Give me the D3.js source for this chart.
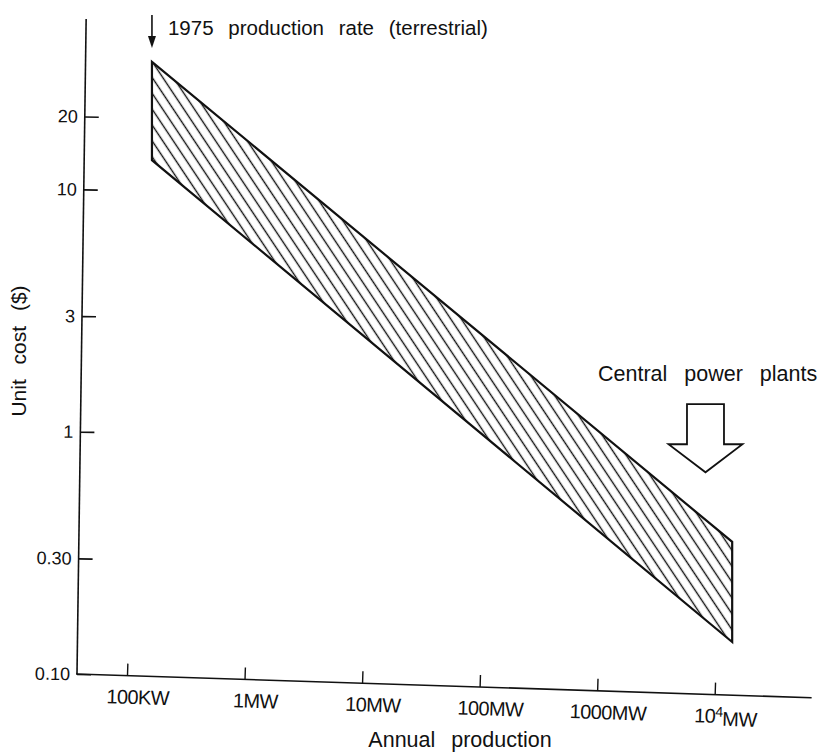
<!DOCTYPE html>
<html>
<head>
<meta charset="utf-8">
<script src="https://cdn.jsdelivr.net/npm/d3@7"></script>
<style>
  html, body { margin: 0; padding: 0; background: #fff; }
  svg { display: block; }
  text { font-family: "Liberation Sans", Arial, sans-serif; fill: #111; }
</style>
</head>
<body>
<svg id="chart" width="822" height="754"></svg>
<script>
// ---- data ----
const production = [0.163, 14000];          // annual production, MW (band left / right edge)
const costHigh   = [33.6, 0.351];           // upper bound of unit cost ($)
const costLow    = [13.2, 0.1355];          // lower bound of unit cost ($)
const xTickValues = [0.1, 1, 10, 100, 1000, 10000];
const xTickLabels = ["100KW", "1MW", "10MW", "100MW", "1000MW", "10^4MW"];
const yTickValues = [0.1, 0.3, 1, 3, 10, 20];
const yTickLabels = ["0.10", "0.30", "1", "3", "10", "20"];
const plantArrow = { production: 8300, from: 1.3, to: 0.68 };   // "Central power plants" arrow
const xTitle = "Annual production";
const yTitle = "Unit cost ($)";
const note1975 = "1975 production rate (terrestrial)";
const notePlants = "Central power plants";

// ---- layout ----
const svg = d3.select("#chart");
const x0 = 77, yBase = 674, xEnd = 812, yTop = 19;

const x = d3.scaleLog().domain([0.1, 1e4]).range([127, 715]);
const y = d3.scaleLog().domain([0.1, 50]).range([yBase, 20]);

// hatch pattern
const defs = svg.append("defs");
const pat = defs.append("pattern")
  .attr("id", "hatch")
  .attr("patternUnits", "userSpaceOnUse")
  .attr("width", 8.8).attr("height", 8.8)
  .attr("patternTransform", "rotate(-33.7)");
pat.append("line")
  .attr("x1", 4.4).attr("y1", -1).attr("x2", 4.4).attr("y2", 10)
  .attr("stroke", "#111").attr("stroke-width", 1.4);

// band
const bandPts = [
  [production[0], costHigh[0]],
  [production[1], costHigh[1]],
  [production[1], costLow[1]],
  [production[0], costLow[0]]
];
const line = d3.line().x(d => x(d[0])).y(d => y(d[1]));
svg.append("path")
  .attr("d", line(bandPts) + "Z")
  .attr("fill", "url(#hatch)")
  .attr("stroke", "#111")
  .attr("stroke-width", 2.2)
  .attr("stroke-linejoin", "miter");

// y axis (slightly skewed like the scan)
const yg = svg.append("g").attr("transform", `rotate(0.8,${x0},${yBase}) translate(${x0},0)`);
yg.append("line").attr("x1", 0).attr("x2", 0).attr("y1", yTop).attr("y2", yBase)
  .attr("stroke", "#111").attr("stroke-width", 1.6);
const yAxis = d3.axisLeft(y).tickValues(yTickValues)
  .tickFormat((d, i) => yTickLabels[i])
  .tickSizeInner(-14).tickSizeOuter(0).tickPadding(7);
yg.call(yAxis);
yg.select(".domain").remove();
yg.selectAll(".tick line").attr("stroke", "#111").attr("stroke-width", 1.6);
yg.selectAll(".tick text").attr("font-size", 18).attr("fill", "#111")
  .style("font-family", '"Liberation Sans", Arial, sans-serif');

// x axis (slightly skewed like the scan)
const xg = svg.append("g").attr("transform", `rotate(1.85,${x0},${yBase}) translate(0,${yBase})`);
xg.append("line").attr("x1", x0 - 1).attr("x2", xEnd).attr("y1", 0).attr("y2", 0)
  .attr("stroke", "#111").attr("stroke-width", 1.6);
const xAxis = d3.axisBottom(x).tickValues(xTickValues)
  .tickFormat((d, i) => xTickLabels[i])
  .tickSizeInner(-12).tickSizeOuter(0).tickPadding(14);
xg.call(xAxis);
xg.select(".domain").remove();
xg.selectAll(".tick line").attr("stroke", "#111").attr("stroke-width", 1.4);
xg.selectAll(".tick text").attr("font-size", 20).attr("fill", "#111").attr("dx", 11)
  .style("font-family", '"Liberation Sans", Arial, sans-serif')
  .style("letter-spacing", "-0.6px")
  .each(function (d, i) {
    const lab = xTickLabels[i];
    if (lab.includes("^")) {
      const [base, rest] = lab.split("^");
      const t = d3.select(this).text(null);
      t.append("tspan").text(base);
      t.append("tspan").attr("dy", "-0.45em").attr("font-size", 14).text(rest.charAt(0));
      t.append("tspan").attr("dy", "0.45em").text(rest.slice(1));
    }
  });

// axis titles
svg.append("text")
  .attr("x", 460).attr("y", 747)
  .attr("text-anchor", "middle")
  .attr("font-size", 21.5)
  .style("word-spacing", "10px")
  .text(xTitle);

svg.append("text")
  .attr("transform", "translate(26,351) rotate(-90)")
  .attr("text-anchor", "middle")
  .attr("font-size", 21)
  .style("word-spacing", "9px")
  .text(yTitle);

// 1975 arrow + note
const ax = x(production[0]);
svg.append("line").attr("x1", ax).attr("x2", ax).attr("y1", 15).attr("y2", 40)
  .attr("stroke", "#111").attr("stroke-width", 1.6);
svg.append("path")
  .attr("d", `M${ax - 4},36 L${ax + 4},36 L${ax},48 Z`)
  .attr("fill", "#111");
svg.append("text")
  .attr("x", ax + 16).attr("y", 35)
  .attr("font-size", 20.5)
  .style("word-spacing", "9px")
  .text(note1975);

// central power plants hollow arrow + note
const px = x(plantArrow.production), pTop = y(plantArrow.from), pTip = y(plantArrow.to);
const sw = 18.5, hw = 37, hh = 28;
svg.append("path")
  .attr("d", `M${px - sw},${pTop} L${px + sw},${pTop} L${px + sw},${pTip - hh} L${px + hw},${pTip - hh}
              L${px},${pTip} L${px - hw},${pTip - hh} L${px - sw},${pTip - hh} Z`)
  .attr("fill", "none").attr("stroke", "#111").attr("stroke-width", 1.8)
  .attr("stroke-linejoin", "miter");
svg.append("text")
  .attr("x", 598).attr("y", 381)
  .attr("font-size", 21.5)
  .style("word-spacing", "11px")
  .text(notePlants);
</script>
</body>
</html>
